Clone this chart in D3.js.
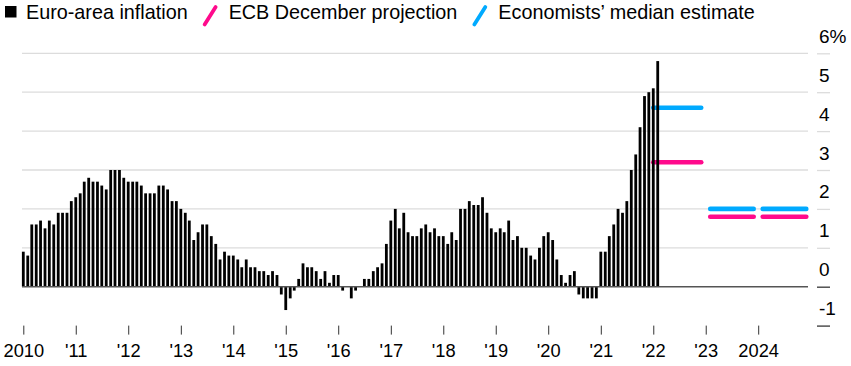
<!DOCTYPE html>
<html><head><meta charset="utf-8">
<script src="https://cdn.jsdelivr.net/npm/d3@7"></script>
<style>
body{margin:0;background:#fff}
svg{display:block}
text{font-family:"Liberation Sans",Arial,Helvetica,sans-serif;fill:#000}
</style>
</head><body>
<svg id="chart" width="851" height="366"></svg>
<script>
// ---- data ----
const startYear = 2010;
const inflation = [
  // 2010
  0.9, 0.8, 1.6, 1.6, 1.7, 1.5, 1.7, 1.6, 1.9, 1.9, 1.9, 2.2,
  // 2011
  2.3, 2.4, 2.7, 2.8, 2.7, 2.7, 2.6, 2.5, 3.0, 3.0, 3.0, 2.8,
  // 2012
  2.7, 2.7, 2.7, 2.6, 2.4, 2.4, 2.4, 2.6, 2.6, 2.5, 2.2, 2.2,
  // 2013
  2.0, 1.9, 1.7, 1.2, 1.4, 1.6, 1.6, 1.3, 1.1, 0.7, 0.9, 0.8,
  // 2014
  0.8, 0.7, 0.5, 0.7, 0.5, 0.5, 0.4, 0.4, 0.3, 0.4, 0.3, -0.2,
  // 2015
  -0.6, -0.3, -0.1, 0.2, 0.6, 0.5, 0.5, 0.4, 0.2, 0.4, 0.1, 0.3,
  // 2016
  0.3, -0.1, 0.0, -0.3, -0.1, 0.0, 0.2, 0.2, 0.4, 0.5, 0.6, 1.1,
  // 2017
  1.7, 2.0, 1.5, 1.9, 1.4, 1.3, 1.3, 1.5, 1.6, 1.4, 1.5, 1.3,
  // 2018
  1.3, 1.1, 1.4, 1.2, 2.0, 2.0, 2.2, 2.1, 2.1, 2.3, 1.9, 1.5,
  // 2019
  1.4, 1.5, 1.4, 1.7, 1.2, 1.3, 1.0, 1.0, 0.8, 0.7, 1.0, 1.3,
  // 2020
  1.4, 1.2, 0.7, 0.3, 0.1, 0.3, 0.4, -0.2, -0.3, -0.3, -0.3, -0.3,
  // 2021
  0.9, 0.9, 1.3, 1.6, 2.0, 1.9, 2.2, 3.0, 3.4, 4.1, 4.9, 5.0,
  // 2022
  5.1, 5.8
];
const projectionYears = [2022, 2023, 2024];
const ecbProjection = [3.2, 1.8, 1.8];
const economistsEstimate = [4.6, 2.0, 2.0];
const yTickValues = [-1, 0, 1, 2, 3, 4, 5, 6];
const yTickLabels = ["-1", "0", "1", "2", "3", "4", "5", "6%"];
const xTickYears = [2010, 2011, 2012, 2013, 2014, 2015, 2016, 2017, 2018, 2019, 2020, 2021, 2022, 2023, 2024];
const xTickLabels = ["2010", "'11", "'12", "'13", "'14", "'15", "'16", "'17", "'18", "'19", "'20", "'21", "'22", "'23", "2024"];
const legendItems = ["Euro-area inflation", "ECB December projection", "Economists\u2019 median estimate"];

// ---- styles ----
const BLUE = "#00aaff", PINK = "#ff0a8c";

const svg = d3.select("#chart");
const x = d3.scaleTime()
  .domain([new Date(2010, 0, 1), new Date(2025, 0, 1)])
  .range([23.3, 810.8]);
const y = d3.scaleLinear().domain([-1, 6]).range([325.6, 53.3]);
const plotLeft = 22, plotRight = 808;

const months = inflation.map((v, i) => ({date: new Date(startYear, i, 1), value: v}));

// gridlines
svg.append("g").selectAll("line")
  .data(yTickValues.filter(v => v > 0))
  .join("line")
  .attr("x1", plotLeft).attr("x2", plotRight)
  .attr("y1", d => y(d)).attr("y2", d => y(d))
  .attr("stroke", "#dcdcdc").attr("stroke-width", 1.3);

// projection lines
function seg(vals, color) {
  svg.append("g").selectAll("line")
    .data(projectionYears.map((yr, i) => ({yr, v: vals[i], i})))
    .join("line")
    .attr("x1", d => x(new Date(d.yr, 0, 1)) + (d.i === 0 ? 0 : 4.5))
    .attr("x2", d => x(new Date(d.yr + 1, 0, 1)) - 4.5)
    .attr("y1", d => y(d.v)).attr("y2", d => y(d.v))
    .attr("stroke", color).attr("stroke-width", 4.6).attr("stroke-linecap", "round");
}
seg(economistsEstimate, BLUE);
seg(ecbProjection, PINK);

// bars
const bw = 2.8;
svg.append("g").selectAll("rect")
  .data(months)
  .join("rect")
  .attr("x", d => x(d.date) - bw / 2)
  .attr("width", bw)
  .attr("y", d => Math.min(y(d.value), y(0)))
  .attr("height", d => Math.abs(y(d.value) - y(0)))
  .attr("fill", "#000");

// zero line
svg.append("line")
  .attr("x1", plotLeft).attr("x2", plotRight)
  .attr("y1", y(0)).attr("y2", y(0))
  .attr("stroke", "#555").attr("stroke-width", 1.4);

// y axis (right)
const yAxis = svg.append("g")
  .attr("transform", "translate(817,0)")
  .call(d3.axisRight(y).tickValues(yTickValues).tickSize(13)
    .tickFormat((d, i) => yTickLabels[i]));
yAxis.select(".domain").remove();
yAxis.selectAll(".tick line")
  .attr("stroke", d => d <= 0 ? "#444" : "#dcdcdc")
  .attr("stroke-width", d => d <= 0 ? 1.4 : 1.3);
yAxis.selectAll(".tick text")
  .attr("x", 2).attr("y", -11).attr("dy", 0)
  .attr("text-anchor", "start")
  .style("font-size", "19px").attr("fill", "#000");

// x axis
const xAxis = svg.append("g")
  .attr("transform", `translate(0,${y(-1)})`)
  .call(d3.axisBottom(x)
    .tickValues(xTickYears.map(yr => new Date(yr, 0, 1)))
    .tickSize(9)
    .tickFormat((d, i) => xTickLabels[i]));
xAxis.select(".domain").remove();
xAxis.selectAll(".tick line").attr("stroke", "#333").attr("stroke-width", 1);
xAxis.selectAll(".tick text")
  .attr("y", 31.5).attr("dy", 0)
  .style("font-size", "18.3px").attr("fill", "#000");

// legend
const lg = svg.append("g");
lg.append("rect").attr("x", 5).attr("y", 6).attr("width", 11.5).attr("height", 11.5).attr("fill", "#000");
let cx = 26;
const markers = [null, PINK, BLUE];
legendItems.forEach((label, i) => {
  if (i > 0) {
    const sx = cx + 17;
    lg.append("line")
      .attr("x1", sx).attr("y1", 24.5).attr("x2", sx + 11).attr("y2", 7)
      .attr("stroke", markers[i]).attr("stroke-width", 3.8).attr("stroke-linecap", "round");
    cx = sx + 24;
  }
  const t = lg.append("text").attr("x", cx).attr("y", 18.5)
    .style("font-size", "19.8px").text(label);
  cx += t.node().getComputedTextLength();
});
</script>
</body></html>
